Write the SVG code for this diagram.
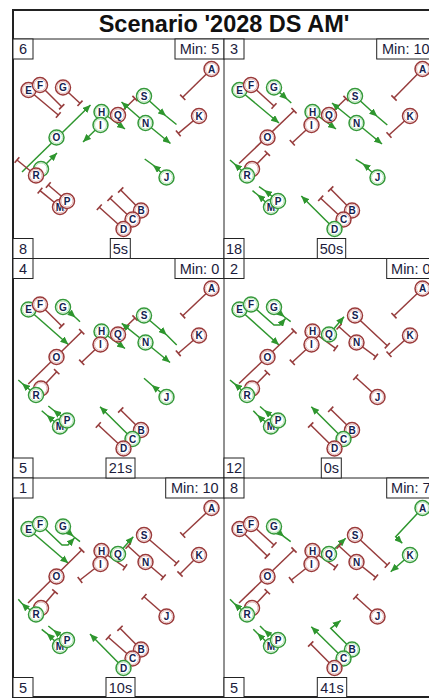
<svg xmlns="http://www.w3.org/2000/svg" width="429" height="699" viewBox="0 0 429 699">
<style>
.bg{fill:#fff}
.frame{fill:none;stroke:#222;stroke-width:2}
.pf{fill:none;stroke:#222;stroke-width:1}
.lb rect{fill:#fff;stroke:#222;stroke-width:1}
.lb text{font-family:"Liberation Sans",Arial,sans-serif;font-size:14.5px;fill:#1c1c3c;text-anchor:middle}
.title{font-family:"Liberation Sans",Arial,sans-serif;font-weight:bold;font-size:23.5px;fill:#111;text-anchor:middle}
.n circle.o{fill:#fff;stroke-width:1.5}
.n circle.i{fill:none;stroke-width:1}
.r circle.o{stroke:#9a3a3a}
.r circle.i{stroke:#e2b4b4}
.g circle.o{stroke:#35993a}
.g circle.i{stroke:#b4e2b4}
.n text{font-family:"Liberation Sans",Arial,sans-serif;font-weight:bold;font-size:10px;fill:#12214f;text-anchor:middle}
.lr{stroke:#963c3c;stroke-width:1.5;fill:none}
.lg{stroke:#2e962e;stroke-width:1.5;fill:none}
.T{marker-end:url(#tb)}
.AE{marker-end:url(#ar)}
.AM{marker-mid:url(#ar)}
</style>
<defs>
<marker id="tb" markerUnits="userSpaceOnUse" markerWidth="4" markerHeight="10" refX="2" refY="5" orient="auto"><path d="M2,1.3 V8.7" stroke="#963c3c" stroke-width="1.6"/></marker>
<marker id="ar" markerUnits="userSpaceOnUse" markerWidth="8" markerHeight="7" refX="8" refY="3.5" orient="auto"><path d="M0,0 L8,3.5 L0,7 z" fill="#2e962e"/></marker>
</defs>
<rect class="bg" x="0" y="0" width="429" height="699"/>
<g id="frame">
<rect class="frame" x="13" y="10" width="422" height="687"/>
<line class="pf" x1="13" y1="39" x2="435" y2="39"/>
<line class="pf" x1="224" y1="39" x2="224" y2="697"/>
<line class="pf" x1="13" y1="258.5" x2="435" y2="258.5"/>
<line class="pf" x1="13" y1="478" x2="435" y2="478"/>
<text class="title" x="224" y="31.5">Scenario '2028 DS AM'</text>
</g>

<!-- Panel 1 -->
<g id="panel1" transform="translate(13,39)">
<g id="p1-connectors">
<path class="lr T" d="M198.5,30 L169.7,58.3"/>
<path class="lr T" d="M15.5,51 L45.3,76"/>
<path class="lr T" d="M27,46 L48.7,67.7"/>
<path class="lr T" d="M50,48.5 L67,64.3"/>
<path class="lg AM" d="M131,57 L153,77 L163.5,85.5"/>
<path class="lg AE" d="M88.5,73 L112,90"/>
<path class="lr T" d="M105,76 L122,59.5"/>
<path class="lr T" d="M186,77 L165.3,94.3"/>
<path class="lg AE" d="M132.5,84 L157.5,104.5"/>
<path class="lg AE" d="M132.5,84 L108.5,63"/>
<path class="lg AE" d="M87.5,86 L70,103"/>
<path class="lg AE" d="M9,133 L77.5,66"/>
<path class="lg AE" d="M28,130 L44,114"/>
<path class="lr T" d="M23,136.5 L4,121"/>
<path class="lg AM" d="M153.5,138.5 L140,126 L131.7,120"/>
<path class="lr T" d="M54,162 L35.3,146"/>
<path class="lr T" d="M47,168 L27,151.7"/>
<path class="lr T" d="M128,171.5 L107.7,151"/>
<path class="lr T" d="M119.5,180.5 L97,159.3"/>
<path class="lr T" d="M110.5,190 L86.3,168.3"/>
</g>
<g id="p1-A" class="n r" transform="translate(198.5,30)"><circle class="o" r="7.5"/><circle class="i" r="6"/><text y="3.6">A</text></g>
<g id="p1-B" class="n r" transform="translate(128,171.5)"><circle class="o" r="7.5"/><circle class="i" r="6"/><text y="3.6">B</text></g>
<g id="p1-C" class="n r" transform="translate(119.5,180.5)"><circle class="o" r="7.5"/><circle class="i" r="6"/><text y="3.6">C</text></g>
<g id="p1-D" class="n r" transform="translate(110.5,190)"><circle class="o" r="7.5"/><circle class="i" r="6"/><text y="3.6">D</text></g>
<g id="p1-E" class="n r" transform="translate(15.5,51)"><circle class="o" r="7.5"/><circle class="i" r="6"/><text y="3.6">E</text></g>
<g id="p1-F" class="n r" transform="translate(27,46)"><circle class="o" r="7.5"/><circle class="i" r="6"/><text y="3.6">F</text></g>
<g id="p1-G" class="n r" transform="translate(50,48.5)"><circle class="o" r="7.5"/><circle class="i" r="6"/><text y="3.6">G</text></g>
<g id="p1-H" class="n g" transform="translate(88.5,73)"><circle class="o" r="7.5"/><circle class="i" r="6"/><text y="3.6">H</text></g>
<g id="p1-I" class="n g" transform="translate(87.5,86)"><circle class="o" r="7.5"/><circle class="i" r="6"/><text y="3.6">I</text></g>
<g id="p1-J" class="n g" transform="translate(153.5,138.5)"><circle class="o" r="7.5"/><circle class="i" r="6"/><text y="3.6">J</text></g>
<g id="p1-K" class="n r" transform="translate(186,77)"><circle class="o" r="7.5"/><circle class="i" r="6"/><text y="3.6">K</text></g>
<g id="p1-L" class="n g" transform="translate(28,130)"><circle class="o" r="7.5"/><circle class="i" r="6"/></g>
<g id="p1-M" class="n r" transform="translate(47,168)"><circle class="o" r="7.5"/><circle class="i" r="6"/><text y="3.6">M</text></g>
<g id="p1-N" class="n g" transform="translate(132.5,84)"><circle class="o" r="7.5"/><circle class="i" r="6"/><text y="3.6">N</text></g>
<g id="p1-O" class="n g" transform="translate(43.5,98.5)"><circle class="o" r="7.5"/><circle class="i" r="6"/><text y="3.6">O</text></g>
<g id="p1-P" class="n r" transform="translate(54,162)"><circle class="o" r="7.5"/><circle class="i" r="6"/><text y="3.6">P</text></g>
<g id="p1-Q" class="n r" transform="translate(105,76)"><circle class="o" r="7.5"/><circle class="i" r="6"/><text y="3.6">Q</text></g>
<g id="p1-R" class="n r" transform="translate(23,136.5)"><circle class="o" r="7.5"/><circle class="i" r="6"/><text y="3.6">R</text></g>
<g id="p1-S" class="n g" transform="translate(131,57)"><circle class="o" r="7.5"/><circle class="i" r="6"/><text y="3.6">S</text></g>
<g class="lb"><rect x="0" y="0" width="20" height="20"/><text x="10" y="15">6</text>
<rect x="162" y="0" width="49" height="20"/><text x="186.5" y="15">Min: 5</text>
<rect x="0" y="199.5" width="20" height="20"/><text x="10" y="214.5">8</text>
<rect x="97.3" y="199.5" width="20" height="20"/><text x="107.3" y="214.5">5s</text></g>
</g>

<!-- Panel 2 -->
<g id="panel2" transform="translate(224,39)">
<g id="p2-connectors">
<path class="lr T" d="M198.5,30 L170,59"/>
<path class="lg AE" d="M15.5,51 L55,84"/>
<path class="lr T" d="M27,46 L50,67"/>
<path class="lg AM" d="M50,48.5 L63.5,60.5 L67.3,64"/>
<path class="lg AM" d="M131,57 L153.3,77.5 L163.3,86"/>
<path class="lg AE" d="M88.5,73 L112,90"/>
<path class="lr T" d="M105,76 L122,59.5"/>
<path class="lr T" d="M87.5,86 L68.3,103.7"/>
<path class="lg AE" d="M132.5,84 L158,105"/>
<path class="lg AE" d="M132.5,84 L108,64"/>
<path class="lr T" d="M186,77 L165,96"/>
<path class="lr T" d="M15,124.5 L70,71.7"/>
<path class="lr T" d="M28,130 L43.3,114.3"/>
<path class="lg AM" d="M23,136.5 L10,124.5 L6,121"/>
<path class="lg AM" d="M153.5,138.5 L138.5,124.5 L131.7,120.3"/>
<path class="lg AM" d="M54,162 L40,151 L35,147.7"/>
<path class="lg AM" d="M47,168 L33.3,155.5 L28.5,151.7"/>
<path class="lr T" d="M128,171.5 L106.7,150"/>
<path class="lr T" d="M119.5,180.5 L96.7,159.3"/>
<path class="lg AE" d="M110.5,190 L77.3,157"/>
</g>
<g id="p2-A" class="n r" transform="translate(198.5,30)"><circle class="o" r="7.5"/><circle class="i" r="6"/><text y="3.6">A</text></g>
<g id="p2-B" class="n r" transform="translate(128,171.5)"><circle class="o" r="7.5"/><circle class="i" r="6"/><text y="3.6">B</text></g>
<g id="p2-C" class="n r" transform="translate(119.5,180.5)"><circle class="o" r="7.5"/><circle class="i" r="6"/><text y="3.6">C</text></g>
<g id="p2-D" class="n g" transform="translate(110.5,190)"><circle class="o" r="7.5"/><circle class="i" r="6"/><text y="3.6">D</text></g>
<g id="p2-E" class="n g" transform="translate(15.5,51)"><circle class="o" r="7.5"/><circle class="i" r="6"/><text y="3.6">E</text></g>
<g id="p2-F" class="n r" transform="translate(27,46)"><circle class="o" r="7.5"/><circle class="i" r="6"/><text y="3.6">F</text></g>
<g id="p2-G" class="n g" transform="translate(50,48.5)"><circle class="o" r="7.5"/><circle class="i" r="6"/><text y="3.6">G</text></g>
<g id="p2-H" class="n g" transform="translate(88.5,73)"><circle class="o" r="7.5"/><circle class="i" r="6"/><text y="3.6">H</text></g>
<g id="p2-I" class="n r" transform="translate(87.5,86)"><circle class="o" r="7.5"/><circle class="i" r="6"/><text y="3.6">I</text></g>
<g id="p2-J" class="n g" transform="translate(153.5,138.5)"><circle class="o" r="7.5"/><circle class="i" r="6"/><text y="3.6">J</text></g>
<g id="p2-K" class="n r" transform="translate(186,77)"><circle class="o" r="7.5"/><circle class="i" r="6"/><text y="3.6">K</text></g>
<g id="p2-L" class="n r" transform="translate(28,130)"><circle class="o" r="7.5"/><circle class="i" r="6"/></g>
<g id="p2-M" class="n g" transform="translate(47,168)"><circle class="o" r="7.5"/><circle class="i" r="6"/><text y="3.6">M</text></g>
<g id="p2-N" class="n g" transform="translate(132.5,84)"><circle class="o" r="7.5"/><circle class="i" r="6"/><text y="3.6">N</text></g>
<g id="p2-O" class="n r" transform="translate(43.5,98.5)"><circle class="o" r="7.5"/><circle class="i" r="6"/><text y="3.6">O</text></g>
<g id="p2-P" class="n g" transform="translate(54,162)"><circle class="o" r="7.5"/><circle class="i" r="6"/><text y="3.6">P</text></g>
<g id="p2-Q" class="n r" transform="translate(105,76)"><circle class="o" r="7.5"/><circle class="i" r="6"/><text y="3.6">Q</text></g>
<g id="p2-R" class="n g" transform="translate(23,136.5)"><circle class="o" r="7.5"/><circle class="i" r="6"/><text y="3.6">R</text></g>
<g id="p2-S" class="n g" transform="translate(131,57)"><circle class="o" r="7.5"/><circle class="i" r="6"/><text y="3.6">S</text></g>
<g class="lb"><rect x="0" y="0" width="20" height="20"/><text x="10" y="15">3</text>
<rect x="152.7" y="0" width="58.3" height="20"/><text x="181.8" y="15">Min: 10</text>
<rect x="0" y="199.5" width="20" height="20"/><text x="10" y="214.5">18</text>
<rect x="93.3" y="199.5" width="28.4" height="20"/><text x="107.5" y="214.5">50s</text></g>
</g>

<!-- Panel 3 -->
<g id="panel3" transform="translate(13,258.5)">
<g id="p3-connectors">
<path class="lr T" d="M198.5,30 L169.7,57.2"/>
<path class="lg AE" d="M15.5,51 L55.3,86"/>
<path class="lr T" d="M27,46 L48.7,67.5"/>
<path class="lg AM" d="M50,48.5 L62.5,59 L67,63.2"/>
<path class="lg AM" d="M131,57 L153.7,76.5 L163.7,86.5"/>
<path class="lg AE" d="M88.5,73 L112,90"/>
<path class="lr T" d="M105,76 L122,59.5"/>
<path class="lr T" d="M87.5,86 L68.7,103.8"/>
<path class="lg AE" d="M132.5,84 L157,104"/>
<path class="lg AE" d="M132.5,84 L108.7,64.8"/>
<path class="lr T" d="M186,77 L165.3,94.8"/>
<path class="lr T" d="M15.3,125.5 L68.7,73.2"/>
<path class="lr T" d="M28,130 L43.7,113.2"/>
<path class="lg AM" d="M23,136.5 L9,124.8 L5.3,121.5"/>
<path class="lg AM" d="M153.5,138.5 L138.7,126.5 L131,119.8"/>
<path class="lg AM" d="M54,162 L40.3,151.5 L35.3,147.5"/>
<path class="lg AM" d="M47,168 L33.7,156.5 L28.7,152.2"/>
<path class="lr T" d="M128,171.5 L107.7,151.5"/>
<path class="lg AE" d="M119.5,180.5 L87,148.2"/>
<path class="lr T" d="M110.5,190 L85.3,166.5"/>
</g>
<g id="p3-A" class="n r" transform="translate(198.5,30)"><circle class="o" r="7.5"/><circle class="i" r="6"/><text y="3.6">A</text></g>
<g id="p3-B" class="n r" transform="translate(128,171.5)"><circle class="o" r="7.5"/><circle class="i" r="6"/><text y="3.6">B</text></g>
<g id="p3-C" class="n g" transform="translate(119.5,180.5)"><circle class="o" r="7.5"/><circle class="i" r="6"/><text y="3.6">C</text></g>
<g id="p3-D" class="n r" transform="translate(110.5,190)"><circle class="o" r="7.5"/><circle class="i" r="6"/><text y="3.6">D</text></g>
<g id="p3-E" class="n g" transform="translate(15.5,51)"><circle class="o" r="7.5"/><circle class="i" r="6"/><text y="3.6">E</text></g>
<g id="p3-F" class="n r" transform="translate(27,46)"><circle class="o" r="7.5"/><circle class="i" r="6"/><text y="3.6">F</text></g>
<g id="p3-G" class="n g" transform="translate(50,48.5)"><circle class="o" r="7.5"/><circle class="i" r="6"/><text y="3.6">G</text></g>
<g id="p3-H" class="n g" transform="translate(88.5,73)"><circle class="o" r="7.5"/><circle class="i" r="6"/><text y="3.6">H</text></g>
<g id="p3-I" class="n r" transform="translate(87.5,86)"><circle class="o" r="7.5"/><circle class="i" r="6"/><text y="3.6">I</text></g>
<g id="p3-J" class="n g" transform="translate(153.5,138.5)"><circle class="o" r="7.5"/><circle class="i" r="6"/><text y="3.6">J</text></g>
<g id="p3-K" class="n r" transform="translate(186,77)"><circle class="o" r="7.5"/><circle class="i" r="6"/><text y="3.6">K</text></g>
<g id="p3-L" class="n r" transform="translate(28,130)"><circle class="o" r="7.5"/><circle class="i" r="6"/></g>
<g id="p3-M" class="n g" transform="translate(47,168)"><circle class="o" r="7.5"/><circle class="i" r="6"/><text y="3.6">M</text></g>
<g id="p3-N" class="n g" transform="translate(132.5,84)"><circle class="o" r="7.5"/><circle class="i" r="6"/><text y="3.6">N</text></g>
<g id="p3-O" class="n r" transform="translate(43.5,98.5)"><circle class="o" r="7.5"/><circle class="i" r="6"/><text y="3.6">O</text></g>
<g id="p3-P" class="n g" transform="translate(54,162)"><circle class="o" r="7.5"/><circle class="i" r="6"/><text y="3.6">P</text></g>
<g id="p3-Q" class="n r" transform="translate(105,76)"><circle class="o" r="7.5"/><circle class="i" r="6"/><text y="3.6">Q</text></g>
<g id="p3-R" class="n g" transform="translate(23,136.5)"><circle class="o" r="7.5"/><circle class="i" r="6"/><text y="3.6">R</text></g>
<g id="p3-S" class="n g" transform="translate(131,57)"><circle class="o" r="7.5"/><circle class="i" r="6"/><text y="3.6">S</text></g>
<g class="lb"><rect x="0" y="0" width="20" height="20"/><text x="10" y="15">4</text>
<rect x="162" y="0" width="49" height="20"/><text x="186.5" y="15">Min: 0</text>
<rect x="0" y="199.5" width="20" height="20"/><text x="10" y="214.5">5</text>
<rect x="93" y="199.5" width="29" height="20"/><text x="107.5" y="214.5">21s</text></g>
</g>

<!-- Panel 4 -->
<g id="panel4" transform="translate(224,258.5)">
<g id="p4-connectors">
<path class="lr T" d="M198.5,30 L170,57.2"/>
<path class="lg AE" d="M15.5,51 L55,86.5"/>
<path class="lg AE" d="M27,46 L50,66.5 L56,66.5 L61.5,60"/>
<path class="lg AM" d="M50,48.5 L60.5,58.5 L66.7,63.2"/>
<path class="lr T" d="M131,57 L163.3,87.2"/>
<path class="lr T" d="M88.5,73 L111.7,89.8"/>
<path class="lg AE" d="M105,76 L120,58.2"/>
<path class="lr T" d="M87.5,86 L68.3,103.8"/>
<path class="lr T" d="M132.5,84 L151.7,98.2"/>
<path class="lr T" d="M132.5,84 L115,68.2"/>
<path class="lr T" d="M186,77 L165,95.8"/>
<path class="lr T" d="M15,125 L70,72.5"/>
<path class="lr T" d="M28,130 L43.3,114.2"/>
<path class="lg AM" d="M23,136.5 L10,124.8 L6,121.5"/>
<path class="lr T" d="M153.5,138.5 L131.7,118.8"/>
<path class="lg AM" d="M54,162 L40,151.5 L36,148"/>
<path class="lg AM" d="M47,168 L33.3,156.5 L29.3,152.2"/>
<path class="lr T" d="M128,171.5 L106.7,150.8"/>
<path class="lg AE" d="M119.5,180.5 L87.3,148.2"/>
<path class="lr T" d="M110.5,190 L86.7,166.5"/>
</g>
<g id="p4-A" class="n r" transform="translate(198.5,30)"><circle class="o" r="7.5"/><circle class="i" r="6"/><text y="3.6">A</text></g>
<g id="p4-B" class="n r" transform="translate(128,171.5)"><circle class="o" r="7.5"/><circle class="i" r="6"/><text y="3.6">B</text></g>
<g id="p4-C" class="n g" transform="translate(119.5,180.5)"><circle class="o" r="7.5"/><circle class="i" r="6"/><text y="3.6">C</text></g>
<g id="p4-D" class="n r" transform="translate(110.5,190)"><circle class="o" r="7.5"/><circle class="i" r="6"/><text y="3.6">D</text></g>
<g id="p4-E" class="n g" transform="translate(15.5,51)"><circle class="o" r="7.5"/><circle class="i" r="6"/><text y="3.6">E</text></g>
<g id="p4-F" class="n g" transform="translate(27,46)"><circle class="o" r="7.5"/><circle class="i" r="6"/><text y="3.6">F</text></g>
<g id="p4-G" class="n g" transform="translate(50,48.5)"><circle class="o" r="7.5"/><circle class="i" r="6"/><text y="3.6">G</text></g>
<g id="p4-H" class="n r" transform="translate(88.5,73)"><circle class="o" r="7.5"/><circle class="i" r="6"/><text y="3.6">H</text></g>
<g id="p4-I" class="n r" transform="translate(87.5,86)"><circle class="o" r="7.5"/><circle class="i" r="6"/><text y="3.6">I</text></g>
<g id="p4-J" class="n r" transform="translate(153.5,138.5)"><circle class="o" r="7.5"/><circle class="i" r="6"/><text y="3.6">J</text></g>
<g id="p4-K" class="n r" transform="translate(186,77)"><circle class="o" r="7.5"/><circle class="i" r="6"/><text y="3.6">K</text></g>
<g id="p4-L" class="n r" transform="translate(28,130)"><circle class="o" r="7.5"/><circle class="i" r="6"/></g>
<g id="p4-M" class="n g" transform="translate(47,168)"><circle class="o" r="7.5"/><circle class="i" r="6"/><text y="3.6">M</text></g>
<g id="p4-N" class="n r" transform="translate(132.5,84)"><circle class="o" r="7.5"/><circle class="i" r="6"/><text y="3.6">N</text></g>
<g id="p4-O" class="n r" transform="translate(43.5,98.5)"><circle class="o" r="7.5"/><circle class="i" r="6"/><text y="3.6">O</text></g>
<g id="p4-P" class="n g" transform="translate(54,162)"><circle class="o" r="7.5"/><circle class="i" r="6"/><text y="3.6">P</text></g>
<g id="p4-Q" class="n g" transform="translate(105,76)"><circle class="o" r="7.5"/><circle class="i" r="6"/><text y="3.6">Q</text></g>
<g id="p4-R" class="n g" transform="translate(23,136.5)"><circle class="o" r="7.5"/><circle class="i" r="6"/><text y="3.6">R</text></g>
<g id="p4-S" class="n r" transform="translate(131,57)"><circle class="o" r="7.5"/><circle class="i" r="6"/><text y="3.6">S</text></g>
<g class="lb"><rect x="0" y="0" width="20" height="20"/><text x="10" y="15">2</text>
<rect x="162.7" y="0" width="48.3" height="20"/><text x="186.8" y="15">Min: 0</text>
<rect x="0" y="199.5" width="20" height="20"/><text x="10" y="214.5">12</text>
<rect x="97.3" y="199.5" width="20" height="20"/><text x="107.3" y="214.5">0s</text></g>
</g>

<!-- Panel 5 -->
<g id="panel5" transform="translate(13,478)">
<g id="p5-connectors">
<path class="lr T" d="M198.5,30 L169.7,57"/>
<path class="lg AE" d="M15.5,51 L55.3,85.3"/>
<path class="lg AE" d="M27,46 L49,67 L55,67 L61.5,60"/>
<path class="lg AM" d="M50,48.5 L60.5,58.5 L67,63.7"/>
<path class="lr T" d="M131,57 L163.7,85.3"/>
<path class="lr T" d="M88.5,73 L112,89.3"/>
<path class="lg AE" d="M105,76 L120.3,58.7"/>
<path class="lr T" d="M87.5,86 L67,102"/>
<path class="lr T" d="M132.5,84 L150.3,99.3"/>
<path class="lr T" d="M132.5,84 L115,68"/>
<path class="lr T" d="M186,77 L167,96"/>
<path class="lr T" d="M15,125 L68.7,72"/>
<path class="lr T" d="M28,130 L42,113.7"/>
<path class="lg AM" d="M23,136.5 L8.7,125.3 L5.3,121.3"/>
<path class="lr T" d="M153.5,138.5 L131,118.7"/>
<path class="lg AM" d="M54,162 L40.3,152 L35.3,148"/>
<path class="lg AM" d="M47,168 L33.7,155.3 L28.7,151.3"/>
<path class="lr T" d="M128,171.5 L107,150.3"/>
<path class="lr T" d="M119.5,180.5 L95.3,159.3"/>
<path class="lg AE" d="M110.5,190 L77,156"/>
</g>
<g id="p5-A" class="n r" transform="translate(198.5,30)"><circle class="o" r="7.5"/><circle class="i" r="6"/><text y="3.6">A</text></g>
<g id="p5-B" class="n r" transform="translate(128,171.5)"><circle class="o" r="7.5"/><circle class="i" r="6"/><text y="3.6">B</text></g>
<g id="p5-C" class="n r" transform="translate(119.5,180.5)"><circle class="o" r="7.5"/><circle class="i" r="6"/><text y="3.6">C</text></g>
<g id="p5-D" class="n g" transform="translate(110.5,190)"><circle class="o" r="7.5"/><circle class="i" r="6"/><text y="3.6">D</text></g>
<g id="p5-E" class="n g" transform="translate(15.5,51)"><circle class="o" r="7.5"/><circle class="i" r="6"/><text y="3.6">E</text></g>
<g id="p5-F" class="n g" transform="translate(27,46)"><circle class="o" r="7.5"/><circle class="i" r="6"/><text y="3.6">F</text></g>
<g id="p5-G" class="n g" transform="translate(50,48.5)"><circle class="o" r="7.5"/><circle class="i" r="6"/><text y="3.6">G</text></g>
<g id="p5-H" class="n r" transform="translate(88.5,73)"><circle class="o" r="7.5"/><circle class="i" r="6"/><text y="3.6">H</text></g>
<g id="p5-I" class="n r" transform="translate(87.5,86)"><circle class="o" r="7.5"/><circle class="i" r="6"/><text y="3.6">I</text></g>
<g id="p5-J" class="n r" transform="translate(153.5,138.5)"><circle class="o" r="7.5"/><circle class="i" r="6"/><text y="3.6">J</text></g>
<g id="p5-K" class="n r" transform="translate(186,77)"><circle class="o" r="7.5"/><circle class="i" r="6"/><text y="3.6">K</text></g>
<g id="p5-L" class="n r" transform="translate(28,130)"><circle class="o" r="7.5"/><circle class="i" r="6"/></g>
<g id="p5-M" class="n g" transform="translate(47,168)"><circle class="o" r="7.5"/><circle class="i" r="6"/><text y="3.6">M</text></g>
<g id="p5-N" class="n r" transform="translate(132.5,84)"><circle class="o" r="7.5"/><circle class="i" r="6"/><text y="3.6">N</text></g>
<g id="p5-O" class="n r" transform="translate(43.5,98.5)"><circle class="o" r="7.5"/><circle class="i" r="6"/><text y="3.6">O</text></g>
<g id="p5-P" class="n g" transform="translate(54,162)"><circle class="o" r="7.5"/><circle class="i" r="6"/><text y="3.6">P</text></g>
<g id="p5-Q" class="n g" transform="translate(105,76)"><circle class="o" r="7.5"/><circle class="i" r="6"/><text y="3.6">Q</text></g>
<g id="p5-R" class="n g" transform="translate(23,136.5)"><circle class="o" r="7.5"/><circle class="i" r="6"/><text y="3.6">R</text></g>
<g id="p5-S" class="n r" transform="translate(131,57)"><circle class="o" r="7.5"/><circle class="i" r="6"/><text y="3.6">S</text></g>
<g class="lb"><rect x="0" y="0" width="20" height="20"/><text x="10" y="15">1</text>
<rect x="152.7" y="0" width="58.3" height="20"/><text x="181.8" y="15">Min: 10</text>
<rect x="0" y="199.5" width="20" height="20"/><text x="10" y="214.5">5</text>
<rect x="93" y="199.5" width="29" height="20"/><text x="107.5" y="214.5">10s</text></g>
</g>

<!-- Panel 6 -->
<g id="panel6" transform="translate(224,478)">
<g id="p6-connectors">
<path class="lg AE" d="M198.5,30 L171.7,58.7 L178.3,65.3"/>
<path class="lr T" d="M15.5,51 L43.3,78"/>
<path class="lr T" d="M27,46 L50,67"/>
<path class="lg AM" d="M50,48.5 L60,58.7 L66.7,63.7"/>
<path class="lr T" d="M131,57 L163.3,87"/>
<path class="lr T" d="M88.5,73 L111.7,89.3"/>
<path class="lg AE" d="M105,76 L121.7,60.3"/>
<path class="lr T" d="M87.5,86 L67.3,102"/>
<path class="lr T" d="M132.5,84 L151.7,99.3"/>
<path class="lr T" d="M132.5,84 L115,68"/>
<path class="lg AE" d="M186,77 L166.7,93.7"/>
<path class="lr T" d="M15,125 L70,72"/>
<path class="lr T" d="M28,130 L43.3,113.7"/>
<path class="lg AM" d="M23,136.5 L10,125.3 L6,121.3"/>
<path class="lr T" d="M153.5,138.5 L131.7,118.7"/>
<path class="lg AM" d="M54,162 L40,152 L36,148"/>
<path class="lg AM" d="M47,168 L33.3,155.3 L29.3,151.3"/>
<path class="lg AE" d="M128,171.5 L106.7,150.3 L116.7,142.5"/>
<path class="lg AE" d="M119.5,180.5 L87.3,148.7"/>
<path class="lr T" d="M110.5,190 L86.7,166"/>
</g>
<g id="p6-A" class="n g" transform="translate(198.5,30)"><circle class="o" r="7.5"/><circle class="i" r="6"/><text y="3.6">A</text></g>
<g id="p6-B" class="n g" transform="translate(128,171.5)"><circle class="o" r="7.5"/><circle class="i" r="6"/><text y="3.6">B</text></g>
<g id="p6-C" class="n g" transform="translate(119.5,180.5)"><circle class="o" r="7.5"/><circle class="i" r="6"/><text y="3.6">C</text></g>
<g id="p6-D" class="n r" transform="translate(110.5,190)"><circle class="o" r="7.5"/><circle class="i" r="6"/><text y="3.6">D</text></g>
<g id="p6-E" class="n r" transform="translate(15.5,51)"><circle class="o" r="7.5"/><circle class="i" r="6"/><text y="3.6">E</text></g>
<g id="p6-F" class="n r" transform="translate(27,46)"><circle class="o" r="7.5"/><circle class="i" r="6"/><text y="3.6">F</text></g>
<g id="p6-G" class="n g" transform="translate(50,48.5)"><circle class="o" r="7.5"/><circle class="i" r="6"/><text y="3.6">G</text></g>
<g id="p6-H" class="n r" transform="translate(88.5,73)"><circle class="o" r="7.5"/><circle class="i" r="6"/><text y="3.6">H</text></g>
<g id="p6-I" class="n r" transform="translate(87.5,86)"><circle class="o" r="7.5"/><circle class="i" r="6"/><text y="3.6">I</text></g>
<g id="p6-J" class="n r" transform="translate(153.5,138.5)"><circle class="o" r="7.5"/><circle class="i" r="6"/><text y="3.6">J</text></g>
<g id="p6-K" class="n g" transform="translate(186,77)"><circle class="o" r="7.5"/><circle class="i" r="6"/><text y="3.6">K</text></g>
<g id="p6-L" class="n r" transform="translate(28,130)"><circle class="o" r="7.5"/><circle class="i" r="6"/></g>
<g id="p6-M" class="n g" transform="translate(47,168)"><circle class="o" r="7.5"/><circle class="i" r="6"/><text y="3.6">M</text></g>
<g id="p6-N" class="n r" transform="translate(132.5,84)"><circle class="o" r="7.5"/><circle class="i" r="6"/><text y="3.6">N</text></g>
<g id="p6-O" class="n r" transform="translate(43.5,98.5)"><circle class="o" r="7.5"/><circle class="i" r="6"/><text y="3.6">O</text></g>
<g id="p6-P" class="n g" transform="translate(54,162)"><circle class="o" r="7.5"/><circle class="i" r="6"/><text y="3.6">P</text></g>
<g id="p6-Q" class="n g" transform="translate(105,76)"><circle class="o" r="7.5"/><circle class="i" r="6"/><text y="3.6">Q</text></g>
<g id="p6-R" class="n g" transform="translate(23,136.5)"><circle class="o" r="7.5"/><circle class="i" r="6"/><text y="3.6">R</text></g>
<g id="p6-S" class="n r" transform="translate(131,57)"><circle class="o" r="7.5"/><circle class="i" r="6"/><text y="3.6">S</text></g>
<g class="lb"><rect x="0" y="0" width="20" height="20"/><text x="10" y="15">8</text>
<rect x="162.7" y="0" width="48.3" height="20"/><text x="186.8" y="15">Min: 7</text>
<rect x="0" y="199.5" width="20" height="20"/><text x="10" y="214.5">5</text>
<rect x="93.3" y="199.5" width="29.4" height="20"/><text x="108" y="214.5">41s</text></g>
</g>
</svg>
